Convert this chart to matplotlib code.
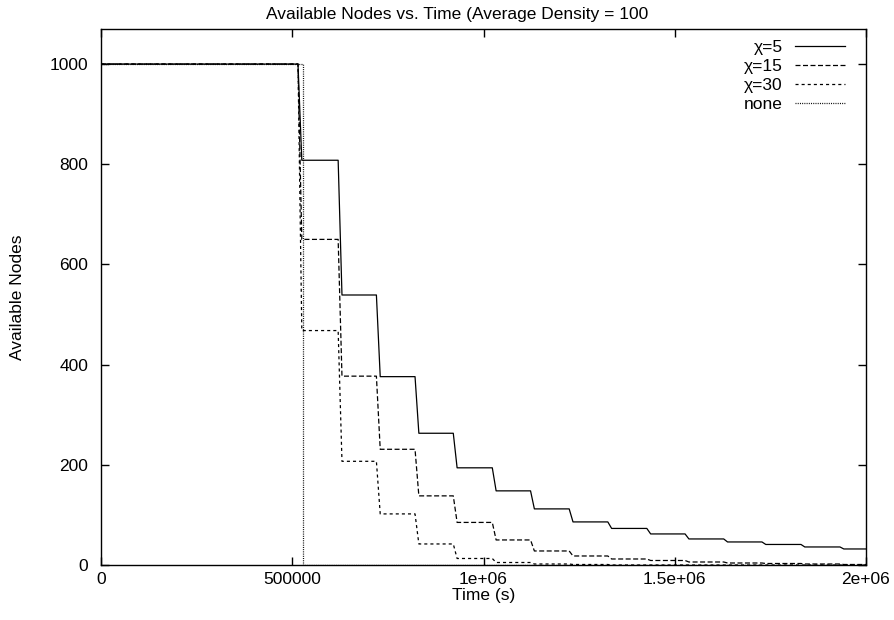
import numpy as np
import matplotlib
matplotlib.use("Agg")
import matplotlib.pyplot as plt

plt.rcParams['font.family'] = ['Liberation Sans', 'DejaVu Sans']
plt.rcParams['lines.scale_dashes'] = False

# === data ===
# times (s) where each plateau ends and the drop starts (shared by all chi runs)
step_times = [515e3, 620e3, 720e3, 821e3, 921e3, 1023e3, 1123e3, 1224e3,
              1325e3, 1427e3, 1527e3, 1628e3, 1728e3, 1830e3, 1932e3]
nodes_chi5 = [1000, 808, 539, 376, 263, 194, 148, 112, 86, 73, 62, 52, 46, 41, 36, 32]
nodes_chi15 = [1000, 650, 377, 231, 138, 85, 50, 28, 18, 12, 9, 6, 4, 3, 2, 1]
nodes_chi30 = [1000, 468, 207, 102, 42, 13, 5, 2, 1, 0, 0, 0, 0, 0, 0, 0]
none_drop_time = 528e3
none_nodes = [1000, 0]
t_end = 2e6

RAMP = 10e3  # how long a drop takes


def step_curve(times, levels, ramp=RAMP):
    t = [0.0]
    y = [levels[0]]
    for i, ts in enumerate(times):
        t += [ts, ts + ramp]
        y += [levels[i], levels[i + 1]]
    t.append(t_end)
    y.append(levels[-1])
    return np.array(t), np.array(y)


FS = 12.5

fig = plt.figure(figsize=(8.95, 6.2), dpi=100)
ax = fig.add_axes([101 / 895, 1 - 565 / 620, 765 / 895, 536 / 620])

lw = 0.9
t, y = step_curve(step_times, nodes_chi5)
ax.plot(t, y, color='black', lw=lw, ls='-', label='χ=5')
t, y = step_curve(step_times, nodes_chi15)
ax.plot(t, y, color='black', lw=lw, ls=(0, (3.6, 1.8)), label='χ=15')
t, y = step_curve(step_times, nodes_chi30)
ax.plot(t, y, color='black', lw=lw, ls=(0, (2.2, 2.2)), label='χ=30')
ax.plot([0, none_drop_time, none_drop_time, t_end],
        [none_nodes[0], none_nodes[0], none_nodes[1], none_nodes[1]],
        color='black', lw=lw, ls=(0, (0.7, 0.9)), label='none')

ax.set_xlim(0, 2e6)
ax.set_ylim(0, 1070)
ax.set_xticks([0, 500000, 1e6, 1.5e6, 2e6])
ax.set_xticklabels(['0', '500000', '1e+06', '1.5e+06', '2e+06'])
ax.set_yticks(range(0, 1001, 200))
ax.tick_params(direction='in', top=True, right=True, length=6, width=1,
               labelsize=FS)
ax.tick_params(axis='y', pad=9)
ax.tick_params(axis='x', pad=5)
for s in ax.spines.values():
    s.set_linewidth(1)

ax.set_xlabel('Time (s)', fontsize=FS, labelpad=0.5)
ax.set_ylabel('Available Nodes', fontsize=FS, labelpad=18)
fig.text(457 / 895, 1 - 14 / 620,
         'Available Nodes vs. Time (Average Density = 100',
         ha='center', va='center', fontsize=FS)

ax.legend(loc='upper right', bbox_to_anchor=((845 - 101) / 765, (565 - 40) / 536),
          frameon=False, markerfirst=False, borderpad=0, borderaxespad=0,
          handlelength=2.9, handletextpad=0.7, labelspacing=0.22, fontsize=FS)

fig.savefig('out.png', dpi=100)
